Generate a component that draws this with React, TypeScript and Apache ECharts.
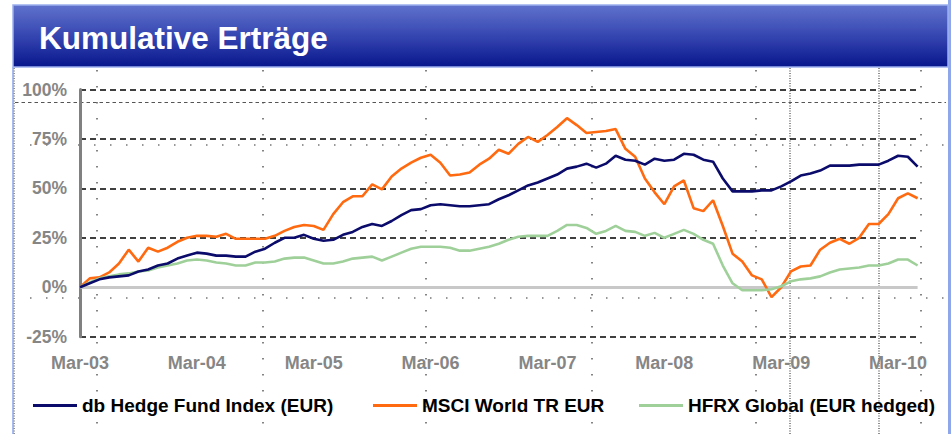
import React, { useEffect, useRef } from "react";
import * as echarts from "echarts";

const TITLE = "Kumulative Erträge";
const MONTH_NAMES = ["Jan", "Feb", "Mar", "Apr", "May", "Jun", "Jul", "Aug", "Sep", "Oct", "Nov", "Dec"];
const START_YEAR = 2003;
const START_MONTH = 2; // March
const MONTH_COUNT = 87; // Mar-03 .. May-10

const categories: string[] = [];
for (let i = 0; i < MONTH_COUNT; i++) {
  const m = (START_MONTH + i) % 12;
  const y = START_YEAR + Math.floor((START_MONTH + i) / 12);
  categories.push(MONTH_NAMES[m] + "-" + String(y % 100).padStart(2, "0"));
}

const seriesNames = ["db Hedge Fund Index (EUR)", "MSCI World TR EUR", "HFRX Global (EUR hedged)"];
const seriesColors = ["#0b0b6b", "#ff6a10", "#9fd09a"];

const dbHedge = [
  0, 2, 4, 5, 5.5, 6, 8, 9, 11, 12, 14.5, 16, 17.5, 17, 16, 16, 15.5, 15.5, 18, 19.5, 22.5, 25, 25, 26.5,
  24.5, 23.5, 24, 26.5, 28, 30.5, 32, 31, 33.5, 36.5, 39, 39.5, 41.5, 42, 41.5, 41, 41, 41.5, 42, 44.5, 46.5, 49, 51.5, 53,
  55, 57, 60, 61, 62.5, 60.5, 62.5, 66.5, 64.5, 64, 62, 65, 64, 64.5, 67.5, 67, 64.5, 63.5, 55, 48.5, 48.5, 48.5, 49, 49,
  51, 53.5, 56.5, 57.5, 59, 61.5, 61.5, 61.5, 62, 62, 62, 64, 66.5, 66, 61,
];

const msciWorld = [
  0, 4.5, 5, 7.5, 12, 19, 13, 20, 18, 20, 23, 25, 26, 26, 25.5, 27, 24.5, 24.5, 24.5, 24.5, 26, 28.5, 30.5, 31.5,
  31, 29, 37, 43, 46, 46, 52, 49.5, 56, 60, 63, 65.5, 67, 63, 56.5, 57, 58, 62, 65, 69.5, 67.5, 72.5, 76, 73.5,
  77, 81, 85.5, 82, 78, 78.5, 79, 80, 70, 66, 55, 48, 42, 51, 54, 40, 38.5, 44, 31, 17, 13, 6, 4, -5,
  0, 8, 10.5, 11, 19, 22.5, 24.5, 22, 25, 32, 32, 37, 45, 47.5, 45,
];

const hfrx = [
  0, 2.5, 4.5, 5.5, 6.5, 7, 8, 8.5, 10, 11, 12, 13.5, 14, 13.5, 12.5, 12, 11, 11, 12.5, 12.5, 13, 14.5, 15, 15,
  13.5, 12, 12, 13, 14.5, 15, 15.5, 13.5, 15.5, 17.5, 19.5, 20.5, 20.5, 20.5, 20, 18.5, 18.5, 19.5, 20.5, 22, 24, 25.5, 26, 26,
  26, 28.5, 31.5, 31.5, 30, 27, 28.5, 31, 28.5, 28, 26, 27.5, 25, 27, 29, 27, 24, 22, 11, 2, -1.5, -1.5, -1.5, -1,
  0.5, 3, 4, 4.5, 5.5, 7.5, 9, 9.5, 10, 11, 11, 12, 14, 14, 11,
];

const seriesData = [dbHedge, msciWorld, hfrx];

const Y_MIN = -25;
const Y_MAX = 100;
const Y_STEP = 25;

const FONT = '"Liberation Sans", Arial, Helvetica, sans-serif';

function dotLine(x1: number, y1: number, x2: number, y2: number, dash: number[], w = 1.2, color = "#333") {
  return {
    type: "line",
    silent: true,
    z: 0,
    shape: { x1, y1, x2, y2 },
    style: { stroke: color, lineWidth: w, lineDash: dash, fill: null },
  };
}

export default function App() {
  const ref = useRef<HTMLDivElement>(null);

  useEffect(() => {
    if (!ref.current) return;
    const chart = echarts.init(ref.current, null, { renderer: "svg" });

    const legendLefts = [33, 373, 639];

    const artifacts: any[] = [];
    [97, 263, 426, 592, 756, 921].forEach((x) => {
      artifacts.push(dotLine(x, 70, x, 434, [1.5, 14.5]));
    });
    [145, 298].forEach((y) => {
      artifacts.push(dotLine(30, y, 946, y, [1.5, 14.5]));
    });
    artifacts.push(dotLine(14, 68, 14, 434, [1, 1.5], 1.2, "#444"));
    artifacts.push(dotLine(790, 68, 790, 434, [1, 1.5], 1.2, "#444"));
    artifacts.push(dotLine(879, 68, 879, 434, [1, 1.5], 1.2, "#444"));
    artifacts.push(dotLine(15, 102.5, 946, 102.5, [3.5, 3], 1, "#555"));

    const option: any = {
      animation: false,
      backgroundColor: "#ffffff",
      textStyle: { fontFamily: FONT },
      grid: { left: 80, right: 33.4, top: 89.5, bottom: 97.3, containLabel: false },
      xAxis: {
        type: "category",
        data: categories,
        boundaryGap: false,
        axisLine: { show: false },
        axisTick: { show: false },
        splitLine: { show: false },
        axisLabel: {
          interval: (i: number) => i % 12 === 0,
          hideOverlap: false,
          color: "#868686",
          fontWeight: "bold",
          fontSize: 18,
          fontFamily: FONT,
          margin: 17,
        },
      },
      yAxis: {
        type: "value",
        min: Y_MIN,
        max: Y_MAX,
        interval: Y_STEP,
        axisLine: { show: true, lineStyle: { color: "#808080", width: 3 } },
        axisTick: { show: false },
        axisLabel: {
          formatter: (v: number) => v + "%",
          color: "#868686",
          fontWeight: "bold",
          fontSize: 17.5,
          fontFamily: FONT,
          margin: 13,
        },
        splitLine: {
          show: true,
          lineStyle: {
            color: ["#000", "rgba(0,0,0,0)", "#000", "#000", "#000", "#000"],
            width: 1.6,
            type: [6, 4],
          },
        },
      },
      legend: seriesNames.map((n, i) => ({
        data: [n],
        left: legendLefts[i],
        top: 395,
        padding: 0,
        icon: "rect",
        itemWidth: 44,
        itemHeight: 3,
        selectedMode: false,
        textStyle: {
          color: "#000",
          fontWeight: "bold",
          fontSize: 19,
          fontFamily: FONT,
          lineHeight: 21,
        },
      })),
      series: seriesNames.map((n, i) => ({
        name: n,
        type: "line",
        data: seriesData[i],
        showSymbol: false,
        symbol: "none",
        smooth: false,
        color: seriesColors[i],
        lineStyle: { color: seriesColors[i], width: 2.6 },
        z: i === 0 ? 3 : 2,
        markLine:
          i === 0
            ? {
                silent: true,
                symbol: ["none", "none"],
                label: { show: false },
                lineStyle: { color: "#c8c8c8", width: 3, type: "solid" },
                data: [{ yAxis: 0 }],
                z: 1,
              }
            : undefined,
      })),
      graphic: [
        ...artifacts,
        {
          type: "rect",
          silent: true,
          z: 10,
          shape: { x: 948, y: 0, width: 3, height: 434 },
          style: { fill: "#8ea6ea" },
        },
        {
          type: "line",
          silent: true,
          z: 10,
          shape: { x1: 13, y1: 67, x2: 13, y2: 434 },
          style: { stroke: "#8ea6ea", lineWidth: 1.5 },
        },
        {
          type: "rect",
          silent: true,
          z: 10,
          shape: { x: 13, y: 5, width: 935, height: 62 },
          style: {
            fill: {
              type: "linear",
              x: 0,
              y: 0,
              x2: 0,
              y2: 1,
              colorStops: [
                { offset: 0, color: "#6072cc" },
                { offset: 0.45, color: "#3a4ab4" },
                { offset: 1, color: "#08168c" },
              ],
            },
            stroke: "#9cb0ee",
            lineWidth: 1.5,
          },
        },
        {
          type: "text",
          silent: true,
          z: 11,
          x: 39,
          y: 38,
          style: {
            text: TITLE,
            fill: "#ffffff",
            font: 'bold 31.5px "Liberation Sans", Arial, sans-serif',
            verticalAlign: "middle",
            align: "left",
          },
        },
      ],
    };

    chart.setOption(option);
    return () => chart.dispose();
  }, []);

  return (
    <div
      ref={ref}
      style={{ position: "absolute", left: 0, top: 0, width: 951, height: 434, background: "#fff" }}
    />
  );
}
